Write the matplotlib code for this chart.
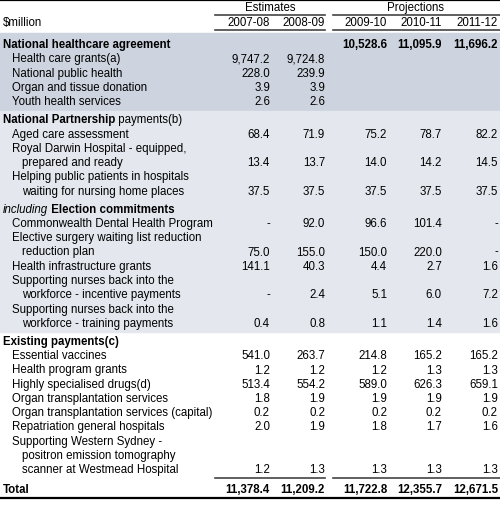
import matplotlib
matplotlib.use("Agg")
import matplotlib.pyplot as plt

plt.rcParams['font.family'] = ['Liberation Sans', 'DejaVu Sans']

years = ["2007-08", "2008-09", "2009-10", "2010-11", "2011-12"]
groups = ["Estimates", "Projections"]

# (label, indent level, bold, values or None, italic prefix)
rows = [
    ("National healthcare agreement", 0, True, ["", "", "10,528.6", "11,095.9", "11,696.2"]),
    ("Health care grants(a)", 1, False, ["9,747.2", "9,724.8", "", "", ""]),
    ("National public health", 1, False, ["228.0", "239.9", "", "", ""]),
    ("Organ and tissue donation", 1, False, ["3.9", "3.9", "", "", ""]),
    ("Youth health services", 1, False, ["2.6", "2.6", "", "", ""]),
    ("NP", 0, True, None),
    ("Aged care assessment", 1, False, ["68.4", "71.9", "75.2", "78.7", "82.2"]),
    ("Royal Darwin Hospital - equipped,", 1, False, None),
    ("prepared and ready", 2, False, ["13.4", "13.7", "14.0", "14.2", "14.5"]),
    ("Helping public patients in hospitals", 1, False, None),
    ("waiting for nursing home places", 2, False, ["37.5", "37.5", "37.5", "37.5", "37.5"]),
    ("INC", 0, True, None),
    ("Commonwealth Dental Health Program", 1, False, ["-", "92.0", "96.6", "101.4", "-"]),
    ("Elective surgery waiting list reduction", 1, False, None),
    ("reduction plan", 2, False, ["75.0", "155.0", "150.0", "220.0", "-"]),
    ("Health infrastructure grants", 1, False, ["141.1", "40.3", "4.4", "2.7", "1.6"]),
    ("Supporting nurses back into the", 1, False, None),
    ("workforce - incentive payments", 2, False, ["-", "2.4", "5.1", "6.0", "7.2"]),
    ("Supporting nurses back into the", 1, False, None),
    ("workforce - training payments", 2, False, ["0.4", "0.8", "1.1", "1.4", "1.6"]),
    ("Existing payments(c)", 0, True, None),
    ("Essential vaccines", 1, False, ["541.0", "263.7", "214.8", "165.2", "165.2"]),
    ("Health program grants", 1, False, ["1.2", "1.2", "1.2", "1.3", "1.3"]),
    ("Highly specialised drugs(d)", 1, False, ["513.4", "554.2", "589.0", "626.3", "659.1"]),
    ("Organ transplantation services", 1, False, ["1.8", "1.9", "1.9", "1.9", "1.9"]),
    ("Organ transplantation services (capital)", 1, False, ["0.2", "0.2", "0.2", "0.2", "0.2"]),
    ("Repatriation general hospitals", 1, False, ["2.0", "1.9", "1.8", "1.7", "1.6"]),
    ("Supporting Western Sydney -", 1, False, None),
    ("positron emission tomography", 2, False, None),
    ("scanner at Westmead Hospital", 2, False, ["1.2", "1.3", "1.3", "1.3", "1.3"]),
]
total = ["11,378.4", "11,209.2", "11,722.8", "12,355.7", "12,671.5"]

fig = plt.figure(figsize=(5.0, 5.06), dpi=100)
ax = fig.add_axes([0, 0, 1, 1])
ax.set_xlim(0, 500)
ax.set_ylim(506, 0)
ax.axis('off')

fs = 8.3
col_right = [270, 325, 387, 442, 498]
indent = [3, 12, 22]

# compute y positions
ys = []
y = 45
gap_rows = {5, 11, 20}
for i in range(len(rows)):
    if i > 0:
        y += 14.25 + (4 if i in gap_rows else 0)
    ys.append(y)

# shading
block1_top, block1_bot = 34, (ys[4] + ys[5]) / 2 + 1
block2_bot = (ys[19] + ys[20]) / 2
ax.axhspan(block1_top, block1_bot, color='#cdd4df', zorder=0)
ax.axhspan(block1_bot, block2_bot, color='#e4e8ee', zorder=0)

# header
ax.plot([0, 500], [1, 1], color='black', lw=1.6)
ax.text((215 + 325) / 2, 8, groups[0], ha='center', va='center', fontsize=fs)
ax.text((333 + 498) / 2, 8, groups[1], ha='center', va='center', fontsize=fs)
for x0, x1 in [(215, 325), (333, 500)]:
    ax.plot([x0, x1], [15.5, 15.5], color='#444444', lw=1.2)
    ax.plot([x0, x1], [30.5, 30.5], color='#444444', lw=1.2)
ax.text(3, 23, "$million", ha='left', va='center', fontsize=fs)
for xr, yr in zip(col_right, years):
    ax.text(xr, 23, yr, ha='right', va='center', fontsize=fs)

for (label, lvl, bold, vals), yy in zip(rows, ys):
    if label == "NP":
        t = ax.text(3, yy, "National Partnership", ha='left', va='center', fontsize=fs, fontweight='bold')
        ax.annotate(" payments(b)", xycoords=t, xy=(1, 0.5), va='center', ha='left', fontsize=fs)
        continue
    if label == "INC":
        t = ax.text(3, yy, "including", ha='left', va='center', fontsize=fs, style='italic')
        ax.annotate(" Election commitments", xycoords=t, xy=(1, 0.5), va='center', ha='left',
                    fontsize=fs, fontweight='bold')
        continue
    ax.text(indent[lvl], yy, label, ha='left', va='center', fontsize=fs,
            fontweight='bold' if bold else 'normal')
    if vals:
        for xr, v in zip(col_right, vals):
            if v:
                ax.text(xr, yy, v, ha='right', va='center', fontsize=fs,
                        fontweight='bold' if bold else 'normal')

ty = ys[-1] + 20
for x0, x1 in [(215, 325), (333, 500)]:
    ax.plot([x0, x1], [ys[-1] + 9, ys[-1] + 9], color='#444444', lw=1.2)
ax.text(3, ty, "Total", ha='left', va='center', fontsize=fs, fontweight='bold')
for xr, v in zip(col_right, total):
    ax.text(xr, ty, v, ha='right', va='center', fontsize=fs, fontweight='bold')
ax.plot([0, 500], [ty + 9, ty + 9], color='black', lw=1.6)

fig.savefig("out.png", dpi=100)
